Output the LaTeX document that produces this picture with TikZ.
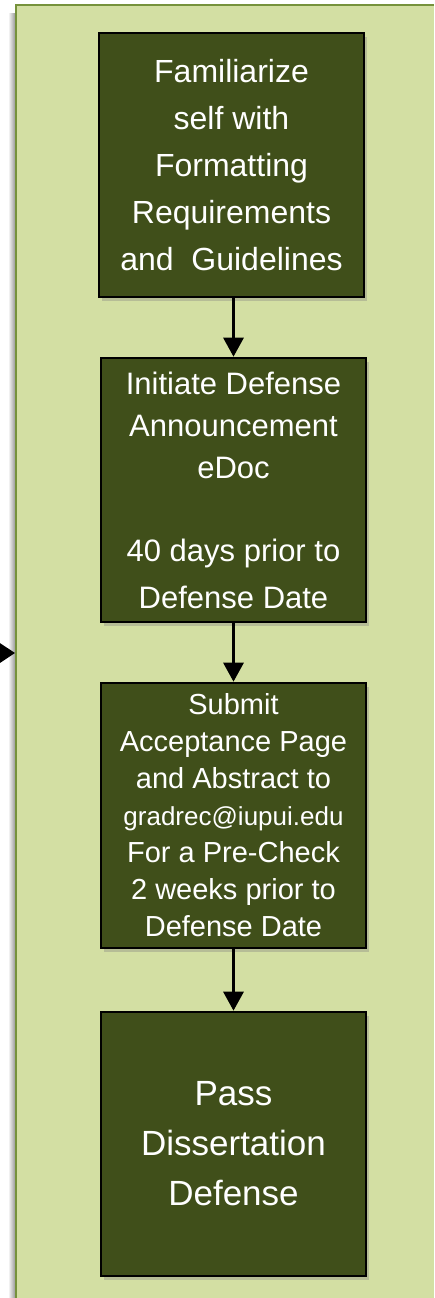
\documentclass[tikz,border=0pt]{standalone}
\usepackage{fontspec}
\setmainfont{Liberation Sans}
\usetikzlibrary{arrows.meta,shadows}
\definecolor{panelfill}{RGB}{211,223,163}
\definecolor{panelborder}{RGB}{118,146,60}
\definecolor{boxfill}{RGB}{64,79,26}
\begin{document}
\begin{tikzpicture}[x=1pt,y=1pt,
  stepbox/.style={draw=black, line width=2.6pt, fill=boxfill, text=white,
    align=center, inner sep=0pt, minimum width=265pt, minimum height=264pt,
    drop shadow={shadow xshift=3pt,shadow yshift=-4pt,opacity=0.35}},
  flow/.style={line width=3pt, -{Triangle[length=19pt,width=20pt]}},
  inflow/.style={line width=3pt, -{Triangle[length=15pt,width=19pt]}}]
\useasboundingbox (0,0) rectangle (434,-1298);
% panel shadow
\shade[left color=white, right color=black!45] (8,-14) rectangle (16,-1298);
% panel
\fill[panelfill] (16,-5) rectangle (434,-1298);
\draw[panelborder, line width=2.4pt] (434,-5) -- (16,-5) -- (16,-1298);
\coordinate (inA) at (-2,-653);
\coordinate (inB) at (15,-653);
\draw[inflow] (inA) -- (inB);

\node[stepbox, font=\fontsize{32}{47}\selectfont] (b1) at (231.5,-165)
  {Familiarize\\ self with\\ Formatting\\ Requirements\\ and~~Guidelines};
\node[stepbox, font=\fontsize{31}{42}\selectfont] (b2) at (233.5,-490)
  {Initiate Defense\\ Announcement\\ eDoc\\[41pt] 40 days prior to\\[5pt] Defense Date};
\node[stepbox, minimum height=265pt, font=\fontsize{29}{37}\selectfont] (b3) at (233.5,-815.5)
  {Submit\\ Acceptance Page\\ and Abstract to\\ {\fontsize{26}{37}\selectfont gradrec@iupui.edu}\\ For a Pre-Check\\ 2 weeks prior to\\ Defense Date};
\node[stepbox, font=\fontsize{35}{50}\selectfont] (b4) at (233.5,-1144)
  {Pass\\ Dissertation\\ Defense};

\draw[flow] (b1.south -| b2.north) -- (b2.north);
\draw[flow] (b2.south) -- (b3.north);
\draw[flow] (b3.south) -- (b4.north);
\end{tikzpicture}
\end{document}
